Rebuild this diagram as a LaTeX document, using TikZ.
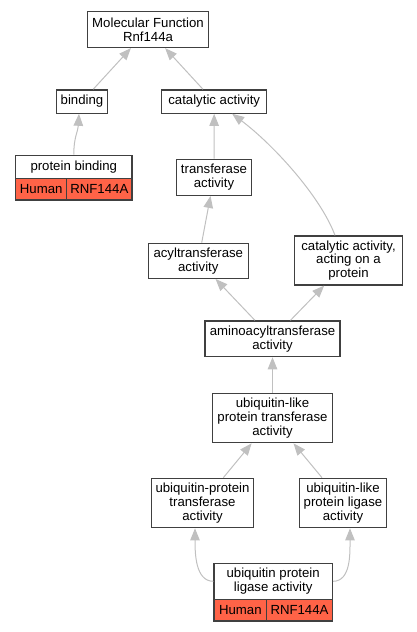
\documentclass[tikz,border=0pt]{standalone}
\usepackage{fontspec}
\setmainfont{Liberation Sans}
\usetikzlibrary{arrows.meta}

\definecolor{tomate}{RGB}{255,99,71}
\definecolor{borda}{RGB}{64,64,64}
\definecolor{cinza}{RGB}{192,192,192}

\begin{document}
\begin{tikzpicture}[x=1pt,y=-1pt]

\useasboundingbox (0,0) rectangle (417,632);

\tikzstyle{termo}=[draw=borda,line width=1.3,fill=white,align=center,inner sep=0,font=\fontsize{13.2}{13.6}\selectfont]
\tikzstyle{celula}=[termo,fill=tomate]
\tikzstyle{seta}=[draw=cinza,line width=1,-{Triangle[length=12,width=9.5]}]

\newcommand{\caixa}[6]{
    \node[termo,minimum width=#4,minimum height=#5] (#1) at ({#2},{#3}) {#6};
}

\newcommand{\linha}[7]{
    \node[celula,minimum width=#4,minimum height=21.7] (#1hu) at ({#2},{#3}) {Human};
    \node[celula,minimum width=#6,minimum height=21.7] (#1rn) at ({#5},{#3}) {RNF144A};
}

\caixa{mf}{148}{29.5}{120.5}{36}{Molecular Function\\Rnf144a}
\caixa{binding}{82}{101.5}{50.5}{23.3}{binding}
\caixa{catalytic}{214.2}{101.5}{105}{23.3}{catalytic activity}

\caixa{pbh}{73.8}{166.8}{116.3}{23}{protein binding}
\linha{pb}{41.2}{189.2}{51}{99.35}{65.3}{}

\caixa{transferase}{214}{177.3}{75}{36}{transferase\\activity}
\caixa{acyl}{198.3}{260.8}{100}{35}{acyltransferase\\activity}
\caixa{cact}{348.5}{260.5}{108.4}{49}{catalytic activity,\\acting on a\\protein}
\caixa{amino}{272.5}{338.8}{135}{35.7}{aminoacyltransferase\\activity}
\caixa{ulpt}{272.5}{418}{119.6}{49.4}{ubiquitin-like\\protein transferase\\activity}
\caixa{upt}{202.5}{503}{101.6}{49.4}{ubiquitin-protein\\transferase\\activity}
\caixa{ulpl}{343}{503}{87.4}{49.4}{ubiquitin-like\\protein ligase\\activity}

\caixa{uplh}{273.2}{581.3}{118.3}{36}{ubiquitin protein\\ligase activity}
\linha{upl}{240.35}{610.2}{52.7}{299.5}{65.6}{}

\draw[seta] (binding) -- (mf);
\draw[seta] (catalytic) -- (mf);
\draw[seta] (pbh.north) .. controls +(0,-18) and +(-1,18) .. ([xshift=-3]binding.south);
\draw[seta] (transferase) -- (catalytic);
\draw[seta] ([xshift=-13.5]cact.north) .. controls +(-15,-40) and +(40,30) .. ([xshift=18]catalytic.south);
\draw[seta] (acyl) -- (transferase);
\draw[seta] (amino) -- (acyl);
\draw[seta] (amino) -- (cact);
\draw[seta] (ulpt) -- (amino);
\draw[seta] (upt) -- (ulpt);
\draw[seta] (ulpl) -- (ulpt);
\draw[seta] (uplh.west) .. controls +(-18,0) and +(0,25) .. ([xshift=-7.5]upt.south);
\draw[seta] (uplh.east) .. controls +(18,0) and +(0,25) .. ([xshift=7]ulpl.south);

\end{tikzpicture}
\end{document}
